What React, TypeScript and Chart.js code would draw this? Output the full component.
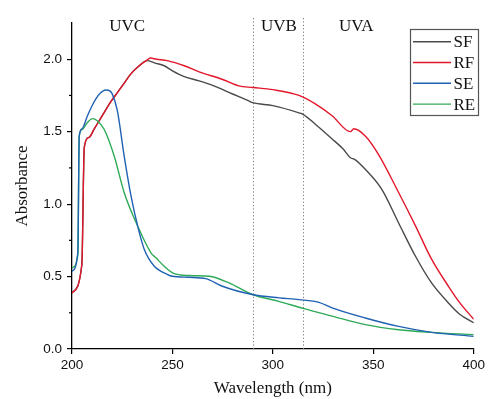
import { useEffect, useRef } from 'react';
import { Chart, registerables } from 'chart.js';

Chart.register(...registerables);

// ---- data ----
const sfX = [200, 204.9, 206.1, 208.5, 211, 213.5, 216, 219, 222.6, 226, 229.2, 233, 237.5, 241, 245.9, 250, 255.9, 263.3, 270, 280, 288, 290, 300, 313, 315, 321.3, 329.5, 335, 338.6, 340.5, 346, 354.3, 362.6, 371, 379, 387.4, 393, 400];
const sfY = [0.39, 0.58, 1.39, 1.46, 1.517, 1.575, 1.632, 1.70, 1.77, 1.835, 1.897, 1.95, 1.99, 1.975, 1.955, 1.92, 1.88, 1.851, 1.82, 1.76, 1.712, 1.70, 1.68, 1.63, 1.62, 1.55, 1.45, 1.38, 1.32, 1.31, 1.24, 1.10, 0.87, 0.64, 0.456, 0.318, 0.24, 0.18];

const rfX = [200, 204.9, 206.1, 208.5, 211, 213.5, 216, 219, 222.6, 226, 229.2, 233, 237.5, 239.1, 242, 247.4, 255.9, 263.3, 275, 283, 290, 300, 313, 321.3, 329.5, 338.6, 340.3, 346, 352.7, 362.6, 371, 379, 387.4, 393, 400];
const rfY = [0.387, 0.583, 1.39, 1.46, 1.517, 1.575, 1.632, 1.70, 1.77, 1.835, 1.897, 1.95, 1.996, 2.008, 2.0, 1.99, 1.955, 1.913, 1.86, 1.816, 1.805, 1.79, 1.75, 1.69, 1.61, 1.50, 1.52, 1.47, 1.34, 1.08, 0.85, 0.62, 0.433, 0.32, 0.205];

const seX = [200, 202.9, 203.6, 205, 207.7, 209.7, 211.8, 214, 216.8, 219, 220.1, 222.6, 226, 229.4, 232.7, 236, 241, 247.6, 250, 258, 266.6, 274.9, 289.8, 303, 313, 322.9, 329.5, 346, 362.6, 379, 400];
const seY = [0.537, 0.664, 1.47, 1.52, 1.61, 1.67, 1.724, 1.765, 1.788, 1.78, 1.759, 1.643, 1.33, 1.055, 0.848, 0.687, 0.571, 0.514, 0.502, 0.495, 0.486, 0.433, 0.376, 0.353, 0.341, 0.322, 0.284, 0.214, 0.156, 0.115, 0.087];

const reX = [200, 202.9, 203.6, 205.2, 207.5, 210.2, 212.7, 216, 221, 226, 232.7, 239.3, 241.8, 245.9, 250, 258.3, 268.3, 278.2, 289.8, 303, 315, 329.5, 346, 362.6, 379, 400];
const reY = [0.56, 0.652, 1.47, 1.517, 1.56, 1.59, 1.574, 1.517, 1.332, 1.079, 0.848, 0.664, 0.629, 0.571, 0.526, 0.507, 0.502, 0.456, 0.376, 0.329, 0.28, 0.227, 0.168, 0.133, 0.115, 0.099];

const seriesLabels = ['SF', 'RF', 'SE', 'RE'];
const seriesColors = ['#4a4a4a', '#e3172b', '#1f62b3', '#2eaa57'];
const seriesDrawOrder = [4, 3, 1, 2];

const xTicks = [200, 250, 300, 350, 400];
const yTicks = [0, 0.5, 1.0, 1.5, 2.0];
const yMinorTicks = [0.25, 0.75, 1.25, 1.75];
const bandEdges = [290, 315];
const bandLabels = ['UVC', 'UVB', 'UVA'];
const bandLabelAt = [227.5, 303, 341.5];

const SERIF = '"Liberation Serif", "Times New Roman", serif';
const SANS = '"Liberation Sans", Arial, sans-serif';

const pts = (xs: number[], ys: number[]) => xs.map((x, i) => ({ x, y: ys[i] }));

const overlay = {
  id: 'overlay',
  beforeDatasetsDraw(chart: any) {
    const { ctx, chartArea, scales } = chart;
    const xs = scales.x;
    ctx.save();
    ctx.strokeStyle = '#7a7a7a';
    ctx.lineWidth = 1;
    ctx.setLineDash([1.2, 2.2]);
    bandEdges.forEach((v) => {
      const px = Math.round(xs.getPixelForValue(v)) + 0.5;
      ctx.beginPath();
      ctx.moveTo(px, 18);
      ctx.lineTo(px, chartArea.bottom);
      ctx.stroke();
    });
    ctx.restore();
  },
  afterDraw(chart: any) {
    const { ctx, chartArea, scales } = chart;
    const xs = scales.x;
    const ys = scales.y;
    ctx.save();
    // minor y ticks
    ctx.strokeStyle = '#000';
    ctx.lineWidth = 1.2;
    yMinorTicks.forEach((v) => {
      const py = ys.getPixelForValue(v);
      ctx.beginPath();
      ctx.moveTo(chartArea.left - 3, py);
      ctx.lineTo(chartArea.left, py);
      ctx.stroke();
    });
    // band labels
    ctx.fillStyle = '#111';
    ctx.font = `17px ${SERIF}`;
    ctx.textAlign = 'center';
    ctx.textBaseline = 'middle';
    bandLabels.forEach((t, i) => {
      ctx.fillText(t, xs.getPixelForValue(bandLabelAt[i]), 27);
    });
    // legend
    const bx = 410.5, by = 29.5, bw = 68, bh = 86;
    ctx.fillStyle = '#fff';
    ctx.fillRect(bx, by, bw, bh);
    ctx.strokeStyle = '#555';
    ctx.lineWidth = 1.2;
    ctx.strokeRect(bx, by, bw, bh);
    ctx.textAlign = 'left';
    chart.data.datasets.forEach((ds: any, i: number) => {
      const ry = 41.7 + i * 20.8;
      ctx.strokeStyle = ds.borderColor;
      ctx.lineWidth = 1.4;
      ctx.beginPath();
      ctx.moveTo(413, ry);
      ctx.lineTo(451, ry);
      ctx.stroke();
      ctx.fillStyle = '#111';
      ctx.fillText(ds.label, 453.5, ry + 1);
    });
    ctx.restore();
  },
};

export default function App() {
  const ref = useRef<HTMLCanvasElement | null>(null);
  useEffect(() => {
    if (!ref.current) return;
    const seriesX = [sfX, rfX, seX, reX];
    const seriesY = [sfY, rfY, seY, reY];
    const chart = new Chart(ref.current, {
      type: 'line',
      data: {
        datasets: seriesLabels.map((label, i) => ({
          label,
          data: pts(seriesX[i], seriesY[i]),
          borderColor: seriesColors[i],
          backgroundColor: seriesColors[i],
          borderWidth: 1.4,
          pointRadius: 0,
          order: seriesDrawOrder[i],
          cubicInterpolationMode: 'monotone' as const,
          fill: false,
        })),
      },
      options: {
        animation: false,
        responsive: false,
        layout: { padding: { top: 23, right: 13, left: 0, bottom: 0 } },
        plugins: { legend: { display: false }, tooltip: { enabled: false } },
        scales: {
          x: {
            type: 'linear',
            min: 200,
            max: 400,
            afterBuildTicks: (s: any) => { s.ticks = xTicks.map((value) => ({ value })); },
            afterFit: (s: any) => { s.height = 50; },
            ticks: { font: { family: SANS, size: 13.5 }, color: '#111', padding: 3 },
            grid: { display: true, drawOnChartArea: false, drawTicks: true, tickLength: 5, color: '#000', lineWidth: 1.2 },
            border: { display: true, color: '#000', width: 1.3 },
            title: { display: true, text: 'Wavelength (nm)', font: { family: SERIF, size: 17 }, color: '#111', padding: { top: 0, bottom: 0 } },
          },
          y: {
            type: 'linear',
            min: 0,
            max: 2.25,
            afterBuildTicks: (s: any) => { s.ticks = yTicks.map((value) => ({ value })); },
            afterFit: (s: any) => { s.width = 72; },
            ticks: { font: { family: SANS, size: 13.5 }, color: '#111', padding: 5, callback: (v: any) => Number(v).toFixed(1) },
            grid: { display: true, drawOnChartArea: false, drawTicks: true, tickLength: 5, color: '#000', lineWidth: 1.2 },
            border: { display: true, color: '#000', width: 1.3 },
            title: { display: true, text: 'Absorbance', font: { family: SERIF, size: 17 }, color: '#111', padding: { top: 12, bottom: 0 } },
          },
        },
      },
      plugins: [overlay],
    });
    return () => chart.destroy();
  }, []);
  return (
    <div style={{ position: 'absolute', left: 0, top: 0, width: 488, height: 399, background: '#fff' }}>
      <canvas ref={ref} width={488} height={399} style={{ display: 'block' }} />
    </div>
  );
}
